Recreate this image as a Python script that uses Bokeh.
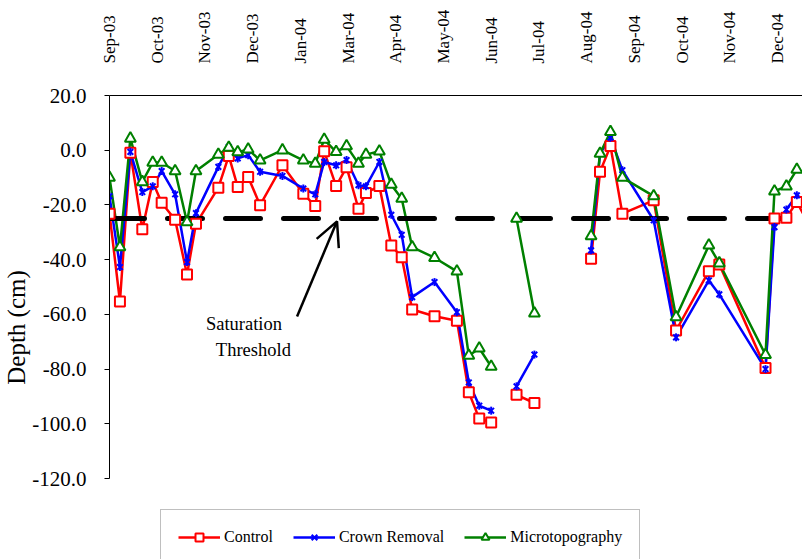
import numpy as np
from bokeh.plotting import figure
from bokeh.models import (Range1d, FixedTicker, PrintfTickFormatter, Legend,
                          LegendItem, Label, Arrow, OpenHead, Title)
from bokeh.embed import file_html
from bokeh.resources import INLINE

nan = float("nan")

# ---- data -------------------------------------------------------------
dates = ["2003-09-23", "2003-09-30", "2003-10-07", "2003-10-15", "2003-10-22",
         "2003-10-28", "2003-11-06", "2003-11-14", "2003-11-20", "2003-12-05",
         "2003-12-12", "2003-12-18", "2003-12-25", "2004-01-02", "2004-01-17",
         "2004-01-31", "2004-02-08", "2004-02-14", "2004-02-22", "2004-02-29",
         "2004-03-08", "2004-03-13", "2004-03-22", "2004-03-30", "2004-04-06",
         "2004-04-13", "2004-04-28", "2004-05-13", "2004-05-21", "2004-05-28",
         "2004-06-05", "2004-06-14", "2004-06-22", "2004-07-04", "2004-07-25",
         "2004-08-11", "2004-08-17", "2004-08-24", "2004-09-01", "2004-09-22",
         "2004-10-07", "2004-10-29", "2004-11-05", "2004-12-06", "2004-12-12",
         "2004-12-20", "2004-12-27", "2005-01-04"]

control = [-23.2, -55.3, -0.9, -28.9, -11.6, -19.2, -25.4, -45.4, -26.9, -13.7,
           -2.1, -13.4, -9.8, -20.1, -5.5, -15.9, -20.4, -0.4, -13.1, -6.2,
           -21.4, -15.6, -13.1, -34.8, -39.1, -58.2, -60.7, -62.3, -88.5, -98.1,
           -99.5, nan, -89.4, -92.4, nan, -39.7, -7.9, 1.5, -23.2, -18.3,
           -65.9, -44.2, -41.8, -79.6, -25.0, -24.7, -18.9, -27.0]

crown = [-16.8, -42.7, -0.6, -15.3, -13.2, -7.6, -16.1, -40.9, -23.0, -6.1,
         1.2, -3.0, -1.8, -7.9, -9.4, -14.0, -16.1, -4.3, -5.5, -3.6,
         -12.8, -13.2, -4.3, -23.6, -30.9, -53.7, -48.2, -59.2, -84.9, -93.4,
         -95.2, nan, -86.3, -74.7, nan, -36.6, -1.2, 4.6, -7.3, -25.6,
         -68.4, -47.6, -52.7, -80.0, -28.1, -21.7, -16.5, -19.0]

micro = [-10.0, -35.4, 4.3, -11.6, -4.5, -4.5, -7.6, -26.3, -7.6, -1.6,
         1.0, -0.7, 0.3, -3.7, 0.0, -3.7, -4.9, 3.9, -0.6, 1.5,
         -4.9, -1.6, -0.4, -12.6, -17.7, -35.4, -39.3, -44.3, -75.1, -72.4,
         -79.1, nan, -25.0, -59.6, nan, -31.4, -1.2, 6.7, -10.0, -16.8,
         -61.0, -34.8, -41.3, -74.8, -15.0, -13.2, -7.1, -9.0]

threshold = -25.0

tick_labels = ["Sep-03", "Oct-03", "Nov-03", "Dec-03", "Jan-04", "Mar-04",
               "Apr-04", "May-04", "Jun-04", "Jul-04", "Aug-04", "Sep-04",
               "Oct-04", "Nov-04", "Dec-04"]
axis_start = "2003-09-23"
tick_step_days = 32
y_ticks = [-120, -100, -80, -60, -40, -20, 0, 20]
y_axis_min, y_axis_max = -120, 20

# ---- derived ----------------------------------------------------------
days = (np.array(dates, dtype="datetime64[D]") - np.datetime64(axis_start)).astype(int)
x_ticks = [i * tick_step_days for i in range(len(tick_labels))]

FONT = "Liberation Serif"

# frame runs to the bottom of the canvas; the y axis line is bounded to -120..20
p = figure(width=802, height=559, output_backend="svg", toolbar_location=None,
           x_range=Range1d(0, 464.8), y_range=Range1d(-149.6, y_axis_max),
           x_axis_location="above",
           min_border_left=109, min_border_top=95, min_border_bottom=0,
           min_border_right=0)
p.outline_line_color = None
p.background_fill_color = "white"
p.border_fill_color = "white"
p.xgrid.visible = False
p.ygrid.visible = False

xa = p.xaxis[0]
xa.ticker = FixedTicker(ticks=x_ticks)
xa.major_label_overrides = {t: l for t, l in zip(x_ticks, tick_labels)}
xa.major_label_orientation = np.pi / 2
xa.major_label_text_font = FONT
xa.major_label_text_font_size = "17px"
xa.major_label_text_color = "black"
xa.major_tick_in = 0
xa.major_tick_out = 0
xa.minor_tick_line_color = None
xa.major_label_standoff = 32
xa.axis_line_color = "black"

ya = p.yaxis[0]
ya.ticker = FixedTicker(ticks=y_ticks)
ya.bounds = (y_axis_min, y_axis_max)
ya.formatter = PrintfTickFormatter(format="%.1f")
ya.major_label_text_font = FONT
ya.major_label_text_font_size = "21px"
ya.major_label_text_color = "black"
ya.major_tick_in = 0
ya.major_tick_out = 5
ya.minor_tick_line_color = None
ya.major_label_standoff = 18
ya.axis_line_color = "black"

p.add_layout(Title(text="Depth (cm)", align="center", offset=6,
                   text_font=FONT, text_font_size="25px", text_color="black",
                   text_font_style="normal", standoff=0), "left")

RED, BLUE, GREEN = "#FF0000", "#0000FF", "#008000"

l_red = p.line(days, control, line_color=RED, line_width=2.5)
l_blue = p.line(days, crown, line_color=BLUE, line_width=2.5)
l_green = p.line(days, micro, line_color=GREEN, line_width=2.5)

p.line([days[0], days[-1]], [threshold, threshold], line_color="black",
       line_width=5, line_dash="35 23", line_cap="round")

m_red = p.scatter(days, control, marker="square", size=10, line_color=RED,
                  fill_color="white", line_width=2)
m_blue = p.scatter(days, crown, marker="x", size=8, line_color=BLUE, line_width=2)
m_blue2 = p.scatter(days, crown, marker="dash", size=8, angle=np.pi / 2,
                    line_color=BLUE, line_width=2)
m_green = p.scatter(days, micro, marker="triangle", size=11, line_color=GREEN,
                    fill_color="white", line_width=2)

p.add_layout(Label(x=90.2, y=-63.4, text="Saturation", text_font=FONT,
                   text_font_size="18.5px", text_color="black",
                   text_align="center", text_baseline="middle"))
p.add_layout(Label(x=96.5, y=-72.9, text="Threshold", text_font=FONT,
                   text_font_size="18.5px", text_color="black",
                   text_align="center", text_baseline="middle"))
p.add_layout(Arrow(x_start=125.8, y_start=-60.8, x_end=152.6, y_end=-26.0,
                   line_color="black", line_width=2.5,
                   end=OpenHead(size=24, line_color="black", line_width=2.5)))

legend = Legend(items=[
    LegendItem(label="Control", renderers=[l_red, m_red]),
    LegendItem(label="Crown Removal", renderers=[l_blue, m_blue, m_blue2]),
    LegendItem(label="Microtopography", renderers=[l_green, m_green]),
], orientation="horizontal", location=(51, -6),
    label_text_font="Times", label_text_font_size="16px",
    label_text_font_style="normal", label_text_color="black")
legend.glyph_width = 42
legend.label_standoff = 4
legend.spacing = 20
legend.padding = 17
legend.margin = 0
legend.border_line_color = "#808080"
legend.border_line_width = 1
legend.background_fill_color = "white"
legend.background_fill_alpha = 1.0
p.add_layout(legend)

open("out.html", "w").write(file_html(p, INLINE))
